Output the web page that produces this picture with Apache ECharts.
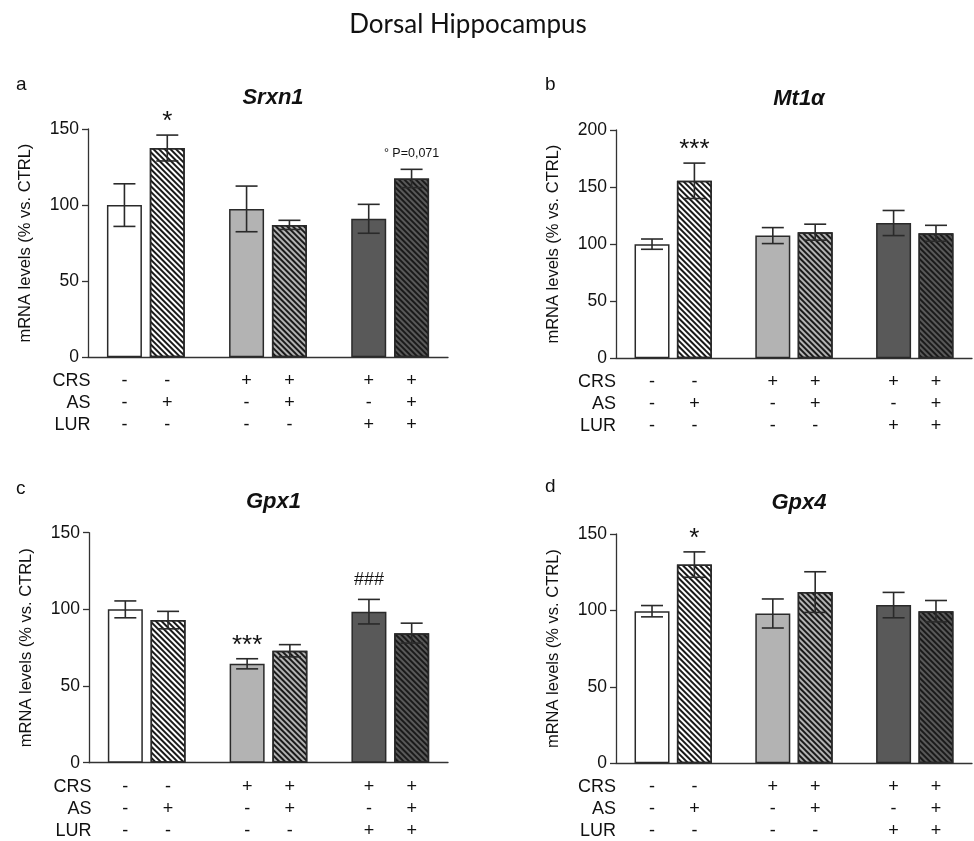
<!DOCTYPE html>
<html>
<head>
<meta charset="utf-8">
<script src="https://cdn.jsdelivr.net/npm/echarts@6/dist/echarts.min.js"></script>
<style>html,body{margin:0;padding:0;background:#fff}#c{width:974px;height:841px}</style>
</head>
<body>
<div id="c"></div>
<script>
// ---------- data ----------
const groups = ['CTRL', 'AS', 'CRS', 'CRS+AS', 'CRS+LUR', 'CRS+AS+LUR'];
const rowNames = ['CRS', 'AS', 'LUR'];
const crsRow = ['-', '-', '+', '+', '+', '+'];
const asRow  = ['-', '+', '-', '+', '-', '+'];
const lurRow = ['-', '-', '-', '-', '+', '+'];

const srxn1Mean = [100, 137.5, 97.5, 87, 91, 117.5];
const srxn1Sem  = [14, 8.5, 15, 3, 9.5, 6];
const srxn1Marks = ['', '*', '', '', '', '° P=0,071'];

const mt1aMean = [100, 155.5, 107.5, 110.5, 118.5, 109.5];
const mt1aSem  = [4.5, 15.5, 7, 7, 11, 7];
const mt1aMarks = ['', '***', '', '', '', ''];

const gpx1Mean = [100, 93, 64.5, 73, 98.5, 84.5];
const gpx1Sem  = [5.5, 5.7, 3.3, 4, 8, 6.5];
const gpx1Marks = ['', '', '***', '', '###', ''];

const gpx4Mean = [99.5, 130, 98, 112, 103.5, 99.5];
const gpx4Sem  = [3.7, 8.3, 9.5, 13.3, 8.3, 7];
const gpx4Marks = ['', '*', '', '', '', ''];

const yTicksA = [0, 50, 100, 150];
const yTicksB = [0, 50, 100, 150, 200];

// ---------- layout / style ----------
const FONT = '"Liberation Sans", Arial, sans-serif';
const fills = ['#ffffff', '#ffffff', '#b3b3b3', '#b3b3b3', '#595959', '#595959'];
const hatched = [false, true, false, true, false, true];
const pairGap = 2.85;
const xPos = groups.map((g, i) => Math.floor(i / 2) * pairGap + (i % 2));
const X_MIN = -0.85, X_MAX = 7.55;

const panels = [
  {title: 'Srxn1', letter: 'a', mean: srxn1Mean, sem: srxn1Sem, marks: srxn1Marks, ticks: yTicksA,
   grid: {left: 88, top: 129, width: 360, height: 228.3}, letterPos: [22, 86]},
  {title: 'Mt1α', letter: 'b', mean: mt1aMean, sem: mt1aSem, marks: mt1aMarks, ticks: yTicksB,
   grid: {left: 616, top: 130, width: 356, height: 228.3}, letterPos: [551, 86]},
  {title: 'Gpx1', letter: 'c', mean: gpx1Mean, sem: gpx1Sem, marks: gpx1Marks, ticks: yTicksA,
   grid: {left: 89, top: 532.7, width: 359, height: 230}, letterPos: [22, 490]},
  {title: 'Gpx4', letter: 'd', mean: gpx4Mean, sem: gpx4Sem, marks: gpx4Marks, ticks: yTicksA,
   grid: {left: 616, top: 534, width: 356, height: 229.3}, letterPos: [551, 488]}
];

const hatchDecal = {
  symbol: 'rect', symbolSize: 1,
  dashArrayX: [1, 0], dashArrayY: [1.1, 1.9],
  rotation: Math.PI / 4,
  color: '#1a1a1a'
};

const option = {
  backgroundColor: '#fff',
  animation: false,
  title: [], grid: [], xAxis: [], yAxis: [], series: [], graphic: []
};

option.title.push({
  text: 'Dorsal Hippocampus', left: 463, top: 7, textAlign: 'center',
  textStyle: {fontFamily: 'Lato, sans-serif', fontWeight: 'normal', fontSize: 26, color: '#111'}
});

panels.forEach((p, k) => {
  const g = p.grid;
  option.grid.push(Object.assign({outerBoundsMode: 'none', containLabel: false}, g));
  option.title.push({
    text: p.title, left: g.left + g.width / 2, top: g.top - 47, textAlign: 'center',
    textStyle: {fontFamily: FONT, fontWeight: 'bold', fontStyle: 'italic', fontSize: 22, color: '#111'}
  });
  option.graphic.push({
    type: 'text', left: p.letterPos[0] - 6, top: p.letterPos[1] - 11,
    style: {text: p.letter, font: '19px ' + FONT, fill: '#111'}
  });
  // row labels
  option.graphic.push({
    type: 'text', x: g.left + (k % 2 === 0 ? 2.5 : 0), y: g.top + g.height + 13,
    style: {text: rowNames.join('\n'), font: '18px ' + FONT, fill: '#111',
            align: 'right', verticalAlign: 'top', lineHeight: 22}
  });
  option.xAxis.push({
    type: 'value', gridIndex: k, min: X_MIN, max: X_MAX,
    splitLine: {show: false},
    axisLine: {show: true, onZero: false, lineStyle: {color: '#333', width: 1.3}},
    axisTick: {show: false},
    axisLabel: {
      show: true, customValues: xPos, margin: 13,
      fontFamily: FONT, fontSize: 18, color: '#111', lineHeight: 22,
      formatter: (v) => {
        const i = xPos.findIndex(x => Math.abs(x - v) < 1e-6);
        if (i < 0) return '';
        return crsRow[i] + '\n' + asRow[i] + '\n' + lurRow[i];
      }
    }
  });
  const maxY = p.ticks[p.ticks.length - 1];
  option.yAxis.push({
    type: 'value', gridIndex: k, min: 0, max: maxY, interval: 50,
    name: 'mRNA levels (% vs. CTRL)', nameLocation: 'middle', nameGap: 54,
    nameTextStyle: {fontFamily: FONT, fontSize: 16.5, color: '#111'},
    splitLine: {show: false},
    axisLine: {show: true, onZero: false, lineStyle: {color: '#333', width: 1.3}},
    axisTick: {show: true, inside: false, length: 6, lineStyle: {color: '#333', width: 1.3}},
    axisLabel: {fontFamily: FONT, fontSize: 17.5, color: '#111', margin: 9}
  });
  option.series.push({
    type: 'bar', xAxisIndex: k, yAxisIndex: k, barWidth: 35,
    data: p.mean.map((m, i) => {
      const item = {value: [xPos[i], m], itemStyle: {color: fills[i], borderColor: '#2a2a2a', borderWidth: 1.5}};
      if (hatched[i]) item.itemStyle.decal = hatchDecal;
      return item;
    }),
    z: 2
  });
  option.series.push({
    type: 'custom', xAxisIndex: k, yAxisIndex: k, z: 5, clip: false,
    data: p.mean.map((m, i) => [xPos[i], m, p.sem[i]]),
    renderItem: (params, api) => {
      const x = api.value(0), y = api.value(1), e = api.value(2);
      const top = api.coord([x, y + e]);
      const bot = api.coord([x, y - e]);
      const hw = 11;
      const ls = {stroke: '#2a2a2a', lineWidth: 1.6};
      const children = [
        {type: 'line', shape: {x1: top[0], y1: top[1], x2: bot[0], y2: bot[1]}, style: ls},
        {type: 'line', shape: {x1: top[0] - hw, y1: top[1], x2: top[0] + hw, y2: top[1]}, style: ls},
        {type: 'line', shape: {x1: bot[0] - hw, y1: bot[1], x2: bot[0] + hw, y2: bot[1]}, style: ls}
      ];
      const mark = p.marks[params.dataIndex];
      if (mark) {
        let fs = 18, dy = 19, fw = 'normal';
        if (mark.indexOf('*') >= 0) { fs = 26; dy = 13; }
        else if (mark.indexOf('P=') >= 0) { fs = 12.5; dy = 16; }
        children.push({type: 'text', x: top[0], y: top[1] - dy,
          style: {text: mark, font: fw + ' ' + fs + 'px ' + FONT, fill: '#111', align: 'center', verticalAlign: 'middle'}});
      }
      return {type: 'group', children};
    }
  });
});

const chart = echarts.init(document.getElementById('c'), null, {renderer: 'canvas'});
chart.setOption(option);
</script>
</body>
</html>
